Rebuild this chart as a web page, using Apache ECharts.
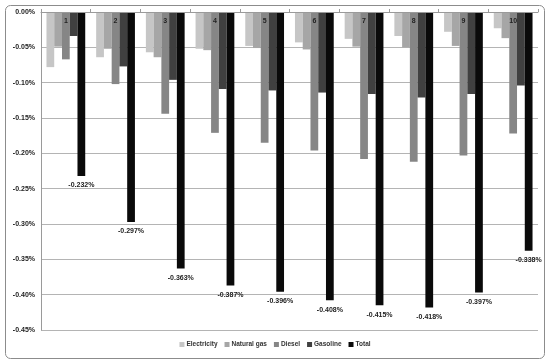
<!DOCTYPE html>
<html>
<head>
<meta charset="utf-8">
<script src="https://cdn.jsdelivr.net/npm/echarts@6/dist/echarts.min.js"></script>
<style>
html,body{margin:0;padding:0;background:#fff;}
#c{width:550px;height:363px;}
</style>
</head>
<body>
<div id="c"></div>
<script>
var categories = ['1','2','3','4','5','6','7','8','9','10'];
var electricity = [-0.078,-0.064,-0.057,-0.052,-0.048,-0.043,-0.038,-0.034,-0.028,-0.023];
var naturalGas  = [-0.049,-0.052,-0.064,-0.054,-0.051,-0.053,-0.049,-0.050,-0.048,-0.037];
var diesel      = [-0.067,-0.102,-0.144,-0.171,-0.185,-0.196,-0.208,-0.212,-0.203,-0.172];
var gasoline    = [-0.034,-0.077,-0.096,-0.109,-0.111,-0.114,-0.116,-0.121,-0.116,-0.104];
var total       = [-0.232,-0.297,-0.363,-0.387,-0.396,-0.408,-0.415,-0.418,-0.397,-0.338];
var seriesNames = ['Electricity','Natural gas','Diesel','Gasoline','Total'];
var colors = ['#c6c6c6','#a6a6a6','#868686','#404040','#0a0a0a'];

var font = 'Liberation Sans';
var chart = echarts.init(document.getElementById('c'), null, {renderer:'canvas'});
function mk(name, data, color, withLabel){
  var s = {name:name,type:'bar',data:data,itemStyle:{color:color},barGap:'0%',barCategoryGap:'22%',animation:false};
  if(withLabel){
    s.label={show:true,position:'bottom',distance:6,fontFamily:font,fontWeight:'bold',fontSize:7,color:'#222',
      formatter:function(p){return p.value.toFixed(3)+'%';}};
  }
  return s;
}
chart.setOption({
  animation:false,
  color:colors,
  graphic:[{type:'rect',shape:{x:5.5,y:5.5,width:539,height:353,r:5},style:{fill:'none',stroke:'#8c8c8c',lineWidth:1},z:-1}],
  grid:{left:41,right:12,top:12,bottom:33},
  legend:{bottom:10,left:'center',itemWidth:5,itemHeight:5,itemGap:7,icon:'rect',
    textStyle:{fontFamily:font,fontWeight:'bold',fontSize:6.5,color:'#333',padding:[0,0,0,-3]},
    data:seriesNames},
  xAxis:{type:'category',position:'top',data:categories,z:10,
    axisLine:{lineStyle:{color:'#9a9a9a'}},
    axisTick:{show:true,inside:false,length:3,lineStyle:{color:'#9a9a9a'}},
    axisLabel:{inside:true,margin:6,fontFamily:font,fontWeight:'bold',fontSize:7,color:'#222'}},
  yAxis:{type:'value',min:-0.45,max:0,interval:0.05,
    axisLine:{show:true,lineStyle:{color:'#9a9a9a'}},
    axisTick:{show:false},
    splitLine:{lineStyle:{color:'#b4b4b4'}},
    axisLabel:{margin:6,fontFamily:font,fontWeight:'bold',fontSize:7,color:'#222',
      formatter:function(v){return v.toFixed(2)+'%';}}},
  series:[
    mk(seriesNames[0],electricity,colors[0]),
    mk(seriesNames[1],naturalGas,colors[1]),
    mk(seriesNames[2],diesel,colors[2]),
    mk(seriesNames[3],gasoline,colors[3]),
    mk(seriesNames[4],total,colors[4],true)
  ]
});
</script>
</body>
</html>
